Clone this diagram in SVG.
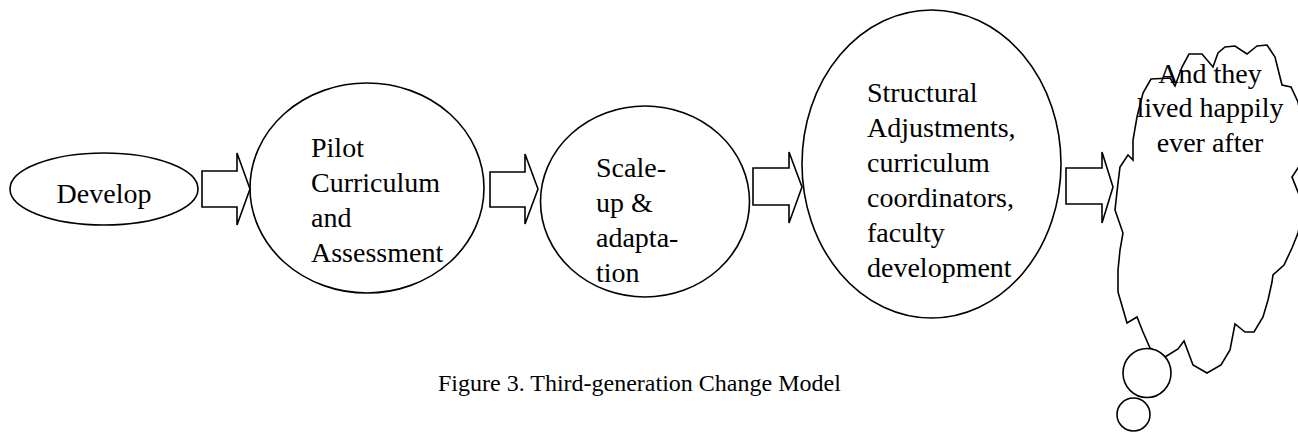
<svg xmlns="http://www.w3.org/2000/svg" width="1298" height="433" viewBox="0 0 1298 433" font-family="'Liberation Serif', 'Times New Roman', serif">
  <style>
    .shape { fill: #ffffff; stroke: #000000; stroke-width: 1.6; }
    .flow { fill: none; stroke: #000000; stroke-width: 1.6; stroke-linejoin: miter; }
    .txt { font-family: 'Liberation Serif', 'Times New Roman', serif; font-size: 28px; fill: #000000; }
    .caption { font-family: 'Liberation Serif', 'Times New Roman', serif; font-size: 24px; fill: #000000; }
  </style>
  <rect width="1298" height="433" fill="#ffffff"/>

  <!-- stage 1 -->
  <g id="develop">
    <ellipse class="shape" cx="104" cy="189" rx="94" ry="36"/>
    <text class="txt" font-family="'Liberation Serif', serif" x="104" y="203" text-anchor="middle">Develop</text>
  </g>

  <!-- stage 2 -->
  <g id="pilot" font-family="'Liberation Serif', serif">
    <ellipse class="shape" cx="367" cy="188" rx="117" ry="105"/>
    <text class="txt" x="311" y="157">Pilot</text>
    <text class="txt" x="311" y="192">Curriculum</text>
    <text class="txt" x="311" y="227">and</text>
    <text class="txt" x="311" y="262">Assessment</text>
  </g>

  <!-- stage 3 -->
  <g id="scale-up" font-family="'Liberation Serif', serif">
    <ellipse class="shape" cx="645" cy="201.5" rx="104.5" ry="95.5"/>
    <text class="txt" x="596" y="177">Scale-</text>
    <text class="txt" x="596" y="212">up &amp;</text>
    <text class="txt" x="596" y="247">adapta-</text>
    <text class="txt" x="596" y="282">tion</text>
  </g>

  <!-- stage 4 -->
  <g id="structural" font-family="'Liberation Serif', serif">
    <ellipse class="shape" cx="931.5" cy="164" rx="129.5" ry="154"/>
    <text class="txt" x="867" y="102">Structural</text>
    <text class="txt" x="867" y="137">Adjustments,</text>
    <text class="txt" x="867" y="172">curriculum</text>
    <text class="txt" x="867" y="207">coordinators,</text>
    <text class="txt" x="867" y="242">faculty</text>
    <text class="txt" x="867" y="277">development</text>
  </g>

  <!-- outcome: thought cloud with trailing bubbles -->
  <g id="outcome" font-family="'Liberation Serif', serif">
    <path class="shape" d="M1151,79 L1170,78 L1175,86 L1182,67 L1189,54 L1202,54 L1213,67 L1218,53 L1225,47 L1235,46 L1247,54 L1257,46 L1267,45 L1275,57 L1282,85 L1291,87 L1298,102 L1303,130 L1300,165 L1292,177 L1300,197 L1302,215 L1298,233 L1292,248 L1284,265 L1273,275 L1272,282 L1268,300 L1263,317 L1254,332 L1245,332 L1235,324 L1230,350 L1221,365 L1207,373 L1193,365 L1184,341 L1178,349 L1165,357 L1150,348 L1143,332 L1137,317 L1127,323 L1118,292 L1118,270 L1120,250 L1123,233 L1115,210 L1118,183 L1120,167 L1128,155 L1133,160 L1133,140 L1137,117 L1143,93 Z"/>
    <ellipse class="shape" cx="1147" cy="373" rx="24" ry="24.5"/>
    <ellipse class="shape" cx="1133.5" cy="414.5" rx="16.5" ry="16.5"/>
    <text class="txt" x="1210" y="83" text-anchor="middle">And they</text>
    <text class="txt" x="1210" y="117" text-anchor="middle">lived happily</text>
    <text class="txt" x="1210" y="152" text-anchor="middle">ever after</text>
  </g>

  <!-- block arrows between stages -->
  <g id="connectors">
    <path class="flow" d="M202,171 L237,171 L237,153 L250,189 L237,225 L237,207 L202,207 Z"/>
    <path class="flow" d="M490,172 L525,172 L525,154 L538,189 L525,224 L525,207 L490,207 Z"/>
    <path class="flow" d="M753,168 L789,168 L789,152 L802,187 L789,223 L789,205 L753,205 Z"/>
    <path class="flow" d="M1066,168 L1102,168 L1102,152 L1113,187 L1102,223 L1102,204 L1066,204 Z"/>
  </g>

  <text class="caption" x="438" y="391">Figure 3. Third-generation Change Model</text>
</svg>
